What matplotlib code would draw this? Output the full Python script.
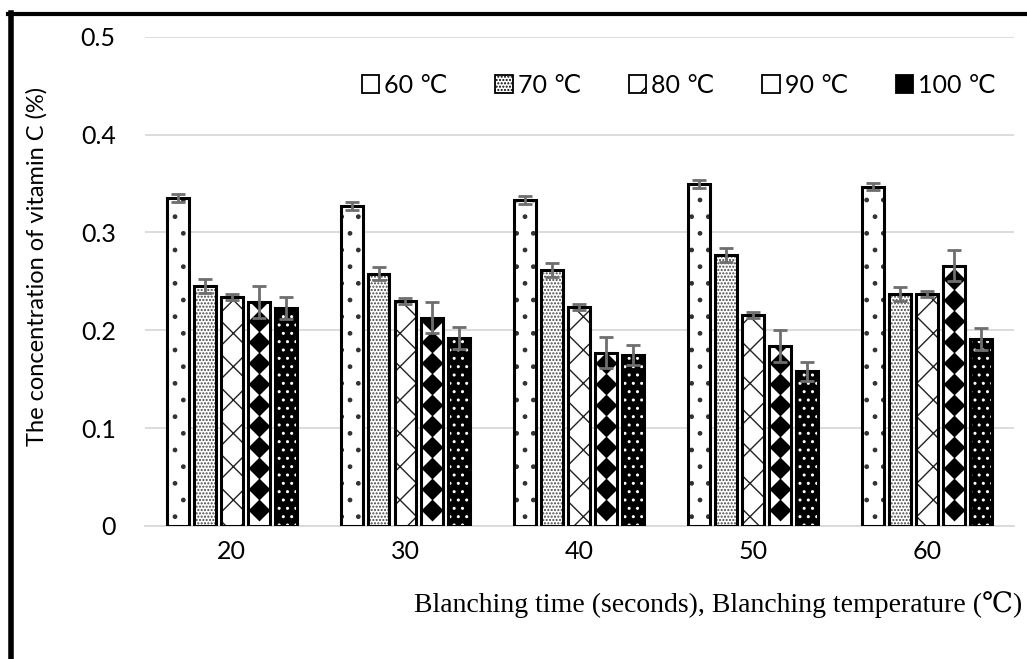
import numpy as np
import matplotlib
matplotlib.use('agg')
import matplotlib.pyplot as plt
from matplotlib.lines import Line2D
from matplotlib.patches import Rectangle

# data
times = ['20', '30', '40', '50', '60']
temps = ['60 \u2103', '70 \u2103', '80 \u2103', '90 \u2103', '100 \u2103']
vit_c = {
  '60': [0.335, 0.327, 0.333, 0.350, 0.347],
  '70': [0.245, 0.258, 0.262, 0.277, 0.237],
  '80': [0.234, 0.230, 0.224, 0.216, 0.237],
  '90': [0.229, 0.213, 0.177, 0.184, 0.266],
  '100': [0.223, 0.192, 0.175, 0.158, 0.191],
}
err = {
  '60': [0.004, 0.004, 0.004, 0.004, 0.004],
  '70': [0.007, 0.007, 0.007, 0.007, 0.007],
  '80': [0.003, 0.003, 0.003, 0.003, 0.003],
  '90': [0.016, 0.016, 0.016, 0.016, 0.016],
  '100': [0.011, 0.011, 0.010, 0.010, 0.011],
}

ui_font = ['Lato', 'DejaVu Sans']
plt.rcParams['hatch.linewidth'] = 1.0

fig = plt.figure(figsize=(10.27, 6.59), dpi=100)
ax = fig.add_axes([0.141, 0.202, 0.846, 0.742])

x = np.arange(len(times))
pitch = 0.155
width = 0.126
keys = list(vit_c.keys())
styles = {
  '60': dict(face='white', hatch='.', hcol='#333333'),
  '70': dict(face='white', hatch='.....', hcol='#444444'),
  '80': dict(face='white', hatch='x', hcol='#222222'),
  '90': dict(face='white', hatch=None, hcol='black'),
  '100': dict(face='black', hatch='..', hcol='white'),
}

handles = []
for i, k in enumerate(keys):
  xs = x + (i - 2) * pitch
  st = styles[k]
  # fill + hatch
  fill = ax.bar(xs, vit_c[k], width, color=st['face'], hatch=st['hatch'],
                edgecolor=st['hcol'], linewidth=0, zorder=2)
  if k == '90':
    # black diamonds down the bar, clipped to the bar
    for bx, bv, patch in zip(xs, vit_c[k], fill.patches):
      ys = np.arange(0.016, bv + 0.02, 0.0215)
      sc = ax.scatter(np.full(len(ys), bx), ys, marker='D', s=125,
                      color='black', zorder=3, linewidths=0)
      sc.set_clip_path(patch)
  ax.bar(xs, vit_c[k], width, fill=False, edgecolor='black',
         linewidth=2.2, zorder=4)
  ax.errorbar(xs, vit_c[k], yerr=err[k], fmt='none', ecolor='#6e6e6e',
              elinewidth=2, capsize=5, capthick=2, zorder=5)
  # legend swatches
  if k == '60':
    h = Rectangle((0, 0), 1, 1, facecolor='white', edgecolor='black', linewidth=1.3)
  elif k == '80':
    h = Rectangle((0, 0), 1, 1, facecolor='white', edgecolor='black',
                  hatch='/', linewidth=1.3)
  elif k == '90':
    h = Rectangle((0, 0), 1, 1, facecolor='white', edgecolor='black',
                  hatch='vv', linewidth=1.3)
  else:
    h = Rectangle((0, 0), 1, 1, facecolor=st['face'], edgecolor='black',
                  hatch=st['hatch'], linewidth=1.3)
  handles.append(h)

ax.set_xlim(-0.5, 4.5)
ax.set_ylim(0, 0.5)
ax.set_yticks([0, 0.1, 0.2, 0.3, 0.4, 0.5])
ax.set_yticklabels(['0', '0.1', '0.2', '0.3', '0.4', '0.5'])
ax.set_xticks(x)
ax.set_xticklabels(times)
for lab in ax.get_xticklabels() + ax.get_yticklabels():
  lab.set_family(ui_font)
  lab.set_fontsize(18)
ax.tick_params(axis='y', length=0, pad=21)
ax.tick_params(axis='x', length=0, pad=10)
ax.grid(axis='y', color='#d9d9d9', linewidth=1.3, zorder=0)
ax.set_axisbelow(True)
for s in ['top', 'right', 'left']:
  ax.spines[s].set_visible(False)
ax.spines['bottom'].set_color('#d9d9d9')
ax.spines['bottom'].set_linewidth(1.3)

ax.set_ylabel('The concentration of vitamin C (%)', family=ui_font,
              fontsize=17)
ax.yaxis.set_label_coords(-0.112, 0.53)
fig.text(0.699, 0.082, 'Blanching time (seconds), Blanching temperature (\u2103)',
         family=['Liberation Serif', 'DejaVu Serif'], fontsize=20,
         ha='center', va='center')

ax.legend(handles, temps, loc='upper left', bbox_to_anchor=(0.238, 0.945),
          ncol=5, frameon=False, prop={'family': ui_font, 'size': 18},
          handlelength=0.7, handleheight=0.7, handletextpad=0.2,
          columnspacing=1.9, borderaxespad=0)

# outer frame (left and top only)
fig.add_artist(Line2D([0.0105, 0.0105], [0.0, 0.981], color='black',
                      linewidth=4, transform=fig.transFigure))
fig.add_artist(Line2D([0.008, 1.0], [0.979, 0.979], color='black',
                      linewidth=3, transform=fig.transFigure))

plt.savefig('out.png', dpi=100)
